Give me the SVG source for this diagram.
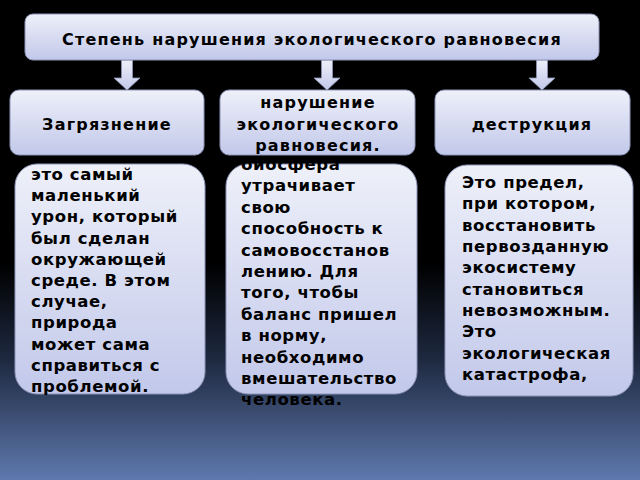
<svg xmlns="http://www.w3.org/2000/svg" width="640" height="480" viewBox="0 0 640 480">
<defs>
<linearGradient id="bg" x1="0" y1="0" x2="0" y2="1">
<stop offset="0" stop-color="#000000"/>
<stop offset="0.55" stop-color="#000000"/>
<stop offset="0.75" stop-color="#1e2940"/>
<stop offset="1" stop-color="#5f79ae"/>
</linearGradient>
<linearGradient id="box" x1="0" y1="0" x2="0" y2="1">
<stop offset="0" stop-color="#eef0f9"/>
<stop offset="1" stop-color="#c2c8ea"/>
</linearGradient>
<clipPath id="clipMid"><rect x="226" y="163" width="260" height="300" rx="20"/></clipPath>
<style>
.bx{fill:url(#box);stroke:#8e95b8;stroke-width:1}
.ar{fill:url(#box);stroke:#8e95b8;stroke-width:0.8}
.t{font-family:"DejaVu Sans",sans-serif;font-weight:bold;fill:#000;font-size:16px;letter-spacing:1.2px}
.c{text-anchor:middle}
.b{font-family:"DejaVu Sans",sans-serif;font-weight:bold;fill:#000;font-size:16.5px;letter-spacing:0.6px}
</style>
</defs>
<rect width="640" height="480" fill="url(#bg)"/>
<g id="connectors">
<path class="ar" d="M121.5,60 H132.5 V78 H140 L127,90 L114,78 H121.5 Z"/>
<path class="ar" d="M321.5,60 H332.5 V78 H340 L327,90 L314,78 H321.5 Z"/>
<path class="ar" d="M536.5,60 H547.5 V78 H555 L542,90 L529,78 H536.5 Z"/>
</g>
<g id="title">
<rect class="bx" x="25" y="14" width="574" height="46" rx="8"/>
<text class="t c" x="312" y="45">Степень нарушения экологического равновесия</text>
</g>
<g id="pollution">
<rect class="bx" x="10" y="90" width="194" height="65" rx="9"/>
<text class="t c" x="107" y="130">Загрязнение</text>
</g>
<g id="imbalance">
<rect class="bx" x="220" y="90" width="195" height="65" rx="9"/>
<text class="t c" x="318" y="108">нарушение</text>
<text class="t c" x="318" y="130">экологического</text>
<text class="t c" x="318" y="151">равновесия.</text>
</g>
<g id="destruction">
<rect class="bx" x="435" y="90" width="195" height="65" rx="9"/>
<text class="t c" x="532" y="130">деструкция</text>
</g>
<g id="pollution-desc">
<rect class="bx" x="15" y="164" width="190" height="230" rx="22"/>
<text class="b" x="31" y="180">это самый</text>
<text class="b" x="31" y="201">маленький</text>
<text class="b" x="31" y="222">урон, который</text>
<text class="b" x="31" y="244">был сделан</text>
<text class="b" x="31" y="265">окружающей</text>
<text class="b" x="31" y="286">среде. В этом</text>
<text class="b" x="31" y="307">случае,</text>
<text class="b" x="31" y="328">природа</text>
<text class="b" x="31" y="350">может сама</text>
<text class="b" x="31" y="371">справиться с</text>
<text class="b" x="31" y="392">проблемой.</text>
</g>
<g id="imbalance-desc">
<rect class="bx" x="226" y="164" width="191" height="230" rx="22"/>
<g clip-path="url(#clipMid)">
<text class="b" x="241" y="170">биосфера</text>
<text class="b" x="241" y="191">утрачивает</text>
<text class="b" x="241" y="213">свою</text>
<text class="b" x="241" y="234">способность к</text>
<text class="b" x="241" y="256">самовосстанов</text>
<text class="b" x="241" y="277">лению. Для</text>
<text class="b" x="241" y="298">того, чтобы</text>
<text class="b" x="241" y="320">баланс пришел</text>
<text class="b" x="241" y="341">в норму,</text>
<text class="b" x="241" y="363">необходимо</text>
<text class="b" x="241" y="384">вмешательство</text>
<text class="b" x="241" y="405">человека.</text>
</g>
</g>
<g id="destruction-desc">
<rect class="bx" x="445" y="165" width="188" height="231" rx="22"/>
<text class="b" x="462" y="188">Это предел,</text>
<text class="b" x="462" y="209">при котором,</text>
<text class="b" x="462" y="231">восстановить</text>
<text class="b" x="462" y="252">первозданную</text>
<text class="b" x="462" y="273">экосистему</text>
<text class="b" x="462" y="295">становиться</text>
<text class="b" x="462" y="316">невозможным.</text>
<text class="b" x="462" y="337">Это</text>
<text class="b" x="462" y="359">экологическая</text>
<text class="b" x="462" y="380">катастрофа,</text>
</g>
</svg>
